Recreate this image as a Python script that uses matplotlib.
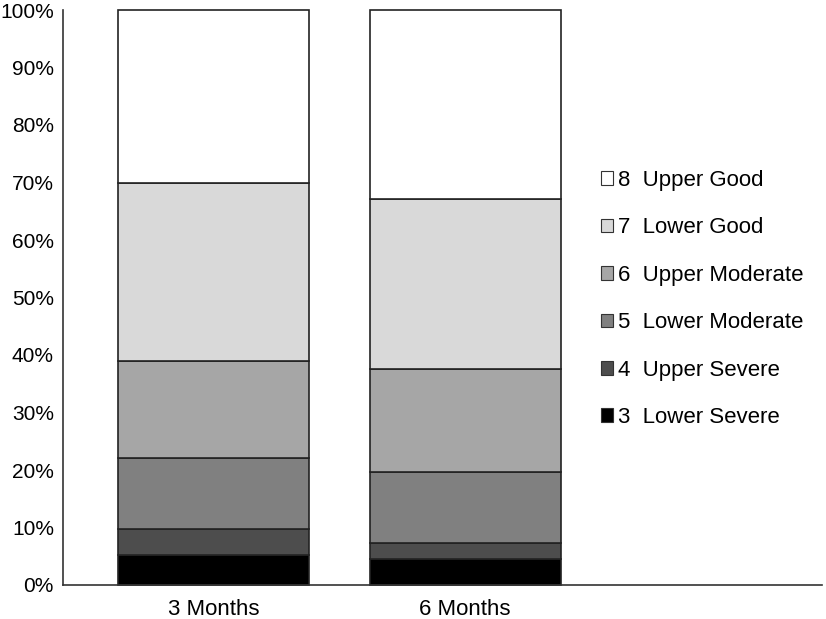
import matplotlib
matplotlib.use("Agg")
import matplotlib.pyplot as plt
import numpy as np
from matplotlib.patches import Patch

plt.rcParams['font.family'] = ['Liberation Sans', 'DejaVu Sans']

# data (percent of patients per category)
periods = ['3 Months', '6 Months']
categories = ['3  Lower Severe', '4  Upper Severe', '5  Lower Moderate',
              '6  Upper Moderate', '7  Lower Good', '8  Upper Good']
lower_severe = [5.2, 4.5]
upper_severe = [4.5, 2.8]
lower_moderate = [12.4, 12.4]
upper_moderate = [16.9, 17.9]
lower_good = [31.0, 29.5]
upper_good = [30.0, 32.9]
series = [lower_severe, upper_severe, lower_moderate,
          upper_moderate, lower_good, upper_good]
colors = ['#000000', '#4d4d4d', '#808080', '#a6a6a6', '#d9d9d9', '#ffffff']

fig = plt.figure(figsize=(8.26, 6.19), dpi=100)
ax = fig.add_axes([63 / 826, 34 / 619, 759 / 826, 575 / 619])

x = np.arange(len(periods))
bottom = np.zeros(len(periods))
for vals, col in zip(series, colors):
    ax.bar(x, vals, 0.76, bottom=bottom, color=col, edgecolor='#222222',
           linewidth=1.2, clip_on=False)
    bottom += np.array(vals)

ax.set_xlim(-0.6, 2.42)
ax.set_ylim(0, 100)
ax.set_yticks(range(0, 101, 10))
ax.set_yticklabels([f'{v}%' for v in range(0, 101, 10)])
ax.set_xticks(x)
ax.set_xticklabels(periods)
ax.tick_params(axis='both', length=0, colors='black')
ax.tick_params(axis='y', pad=6.5, labelsize=15)
ax.tick_params(axis='x', pad=10, labelsize=16)
for s in ['top', 'right']:
    ax.spines[s].set_visible(False)
for s in ['left', 'bottom']:
    ax.spines[s].set_color('#333333')
    ax.spines[s].set_linewidth(1.2)

handles = [Patch(facecolor=c, edgecolor='#333333', linewidth=0.8) for c in colors]
fig.legend(handles[::-1], categories[::-1], loc='center left',
           bbox_to_anchor=(601 / 826, (619 - 299) / 619), frameon=False,
           fontsize=16, handlelength=0.56, handleheight=0.56,
           handletextpad=0.22, labelspacing=1.19, borderpad=0,
           borderaxespad=0)

fig.savefig('out.png', dpi=100)
